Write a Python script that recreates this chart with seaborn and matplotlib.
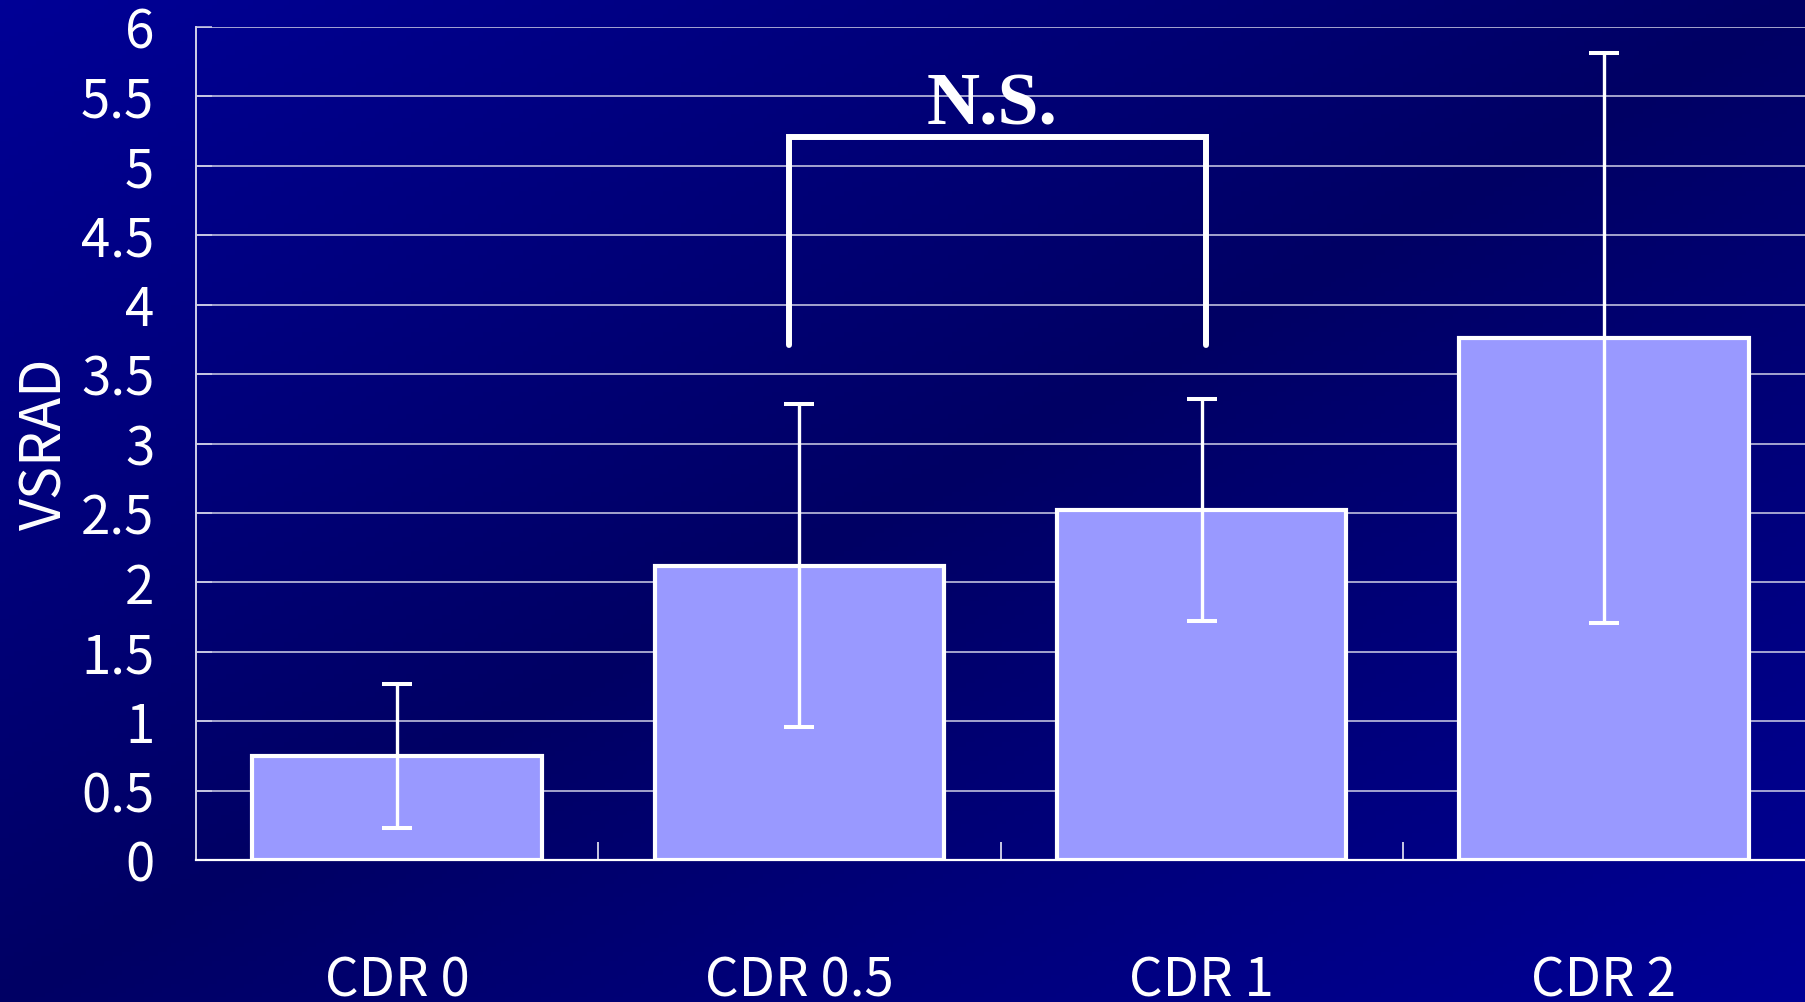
import numpy as np
import pandas as pd
import matplotlib
matplotlib.use("Agg")
import matplotlib.pyplot as plt
import seaborn as sns

# values
categories = ["CDR 0", "CDR 0.5", "CDR 1", "CDR 2"]
means = [0.75, 2.12, 2.52, 3.76]
sds = [0.52, 1.165, 0.80, 2.05]
yticks = [0, 0.5, 1, 1.5, 2, 2.5, 3, 3.5, 4, 4.5, 5, 5.5, 6]
ytick_labels = ["0", "0.5", "1", "1.5", "2", "2.5", "3", "3.5", "4", "4.5", "5", "5.5", "6"]
bracket_x = [0.975, 2.01]
bracket_y = [3.71, 5.21]
sig_label = "N.S."

sns.set_theme(style="white")
label_font = ["Noto Sans CJK JP", "DejaVu Sans"]
plt.rcParams["font.family"] = label_font

W, H = 1805, 1002
fig = plt.figure(figsize=(W / 100, H / 100), dpi=100)

# diagonal blue gradient background
bg = fig.add_axes([0, 0, 1, 1], zorder=-10)
gx, gy = np.meshgrid(np.linspace(0, 1, 400), np.linspace(0, 1, 220))
t = (gx + gy) / 2
blue = (100 + 50 * np.abs(2 * t - 1)) / 255
img = np.dstack([np.zeros_like(blue), np.zeros_like(blue), blue])
bg.imshow(img, aspect="auto", extent=[0, 1, 0, 1], origin="upper")
bg.axis("off")

ax = fig.add_axes([196 / W, 1 - 860 / H, 1 - 196 / W, 833 / H])
ax.set_facecolor("none")

df = pd.DataFrame({"group": categories, "VSRAD": means})
sns.barplot(data=df, x="group", y="VSRAD", color="#9999ff", saturation=1,
            width=0.72, edgecolor="white", linewidth=3, ax=ax, zorder=2)
ax.errorbar(range(len(categories)), means, yerr=sds, fmt="none", ecolor="white",
            elinewidth=2.4, capsize=11, capthick=2.9, zorder=3)

ax.set_xlim(-0.5, 3.5)
ax.set_ylim(0, 6)
ax.set_yticks(yticks)
ax.set_yticklabels(ytick_labels)
ax.yaxis.grid(True, color="#d0d0e8", linewidth=1.1, zorder=0)
ax.set_axisbelow(True)
ax.xaxis.grid(False)

for s in ["top", "right"]:
    ax.spines[s].set_visible(False)
ax.spines["left"].set_color("#d0d0e8")
ax.spines["left"].set_linewidth(1.4)
ax.spines["bottom"].set_color("white")
ax.spines["bottom"].set_linewidth(1.6)

ax.tick_params(axis="y", direction="in", length=11.5, width=1.1, color="#d0d0e8",
               labelcolor="white", labelsize=38, pad=30, left=True)
ax.tick_params(axis="x", which="major", length=0, labelcolor="white", labelsize=38, pad=67)
ax.set_xticks([0.5, 1.5, 2.5], minor=True)
ax.tick_params(axis="x", which="minor", direction="in", length=13, width=1.1,
               color="white", bottom=True)

ax.set_xlabel("")
ax.set_ylabel("VSRAD", color="white", fontsize=40)
ax.yaxis.set_label_coords(-0.0755, 0.5)

# significance bracket
ax.plot([bracket_x[0], bracket_x[0], bracket_x[1], bracket_x[1]],
        [bracket_y[0], bracket_y[1], bracket_y[1], bracket_y[0]],
        color="white", linewidth=4.3, solid_joinstyle="miter", zorder=4, clip_on=False)
ax.text(1.48, 5.295, sig_label, ha="center", va="baseline",
        color="white", fontsize=53, fontweight="bold",
        family=["Liberation Serif", "DejaVu Serif"], zorder=5)

fig.savefig("out.png", dpi=100, facecolor=fig.get_facecolor())
